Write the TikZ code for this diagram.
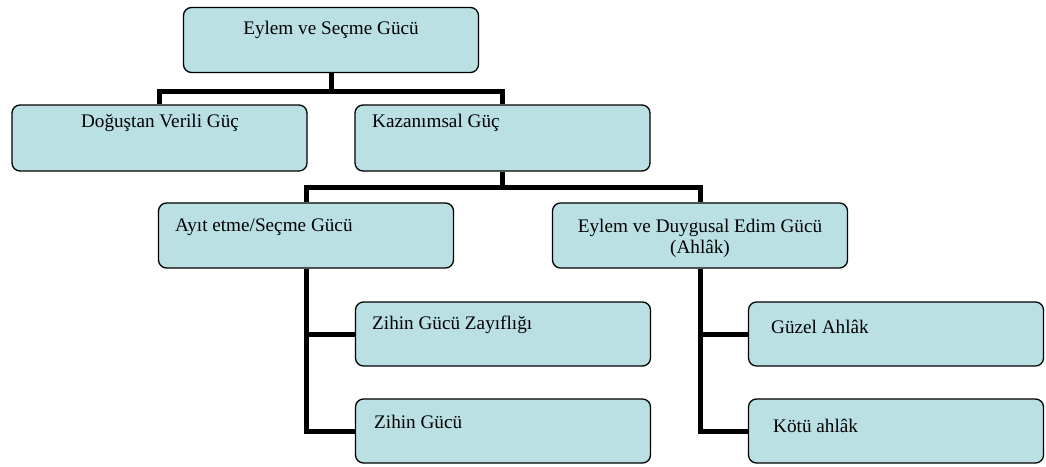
\documentclass[tikz,border=0pt]{standalone}
\usepackage{fontspec}
\setmainfont{Liberation Serif}
\definecolor{boxfill}{RGB}{186,224,228}
\begin{document}
\begin{tikzpicture}[x=1pt,y=-1pt,
  box/.style={draw=black,line width=1.3pt,fill=boxfill,rounded corners=8pt,
    minimum width=295pt,minimum height=65pt,inner sep=0pt,anchor=center},
  lbl/.style={inner sep=0pt,font=\fontsize{19.2}{21}\selectfont},
  conn/.style={line width=5pt,draw=black}]
\useasboundingbox (0,0) rectangle (1046,466);
\node[box] (top) at (331,40) {};
\node[box,minimum height=66pt] (dog) at (159.5,138) {};
\node[box,minimum height=66pt] (kaz) at (502.5,138) {};
\node[box] (ayit) at (306,235.5) {};
\node[box] (eyl) at (700,235.5) {};
\node[box,minimum height=64pt] (zz) at (503,334) {};
\node[box,minimum height=64pt] (zg) at (503,431) {};
\node[box,minimum height=64pt] (guz) at (896,334) {};
\node[box,minimum height=64pt] (kot) at (896,431) {};
\draw[conn] (top.south) -- ++(0,18) coordinate (b1) -| (dog.north);
\draw[conn] (b1) -| (kaz.north);
\draw[conn] (kaz.south) -- ++(0,16) coordinate (b2) -| (ayit.north);
\draw[conn] (b2) -| (eyl.north);
\draw[conn] (ayit.south) |- (zz.west);
\draw[conn] (ayit.south) |- (zg.west);
\draw[conn] (eyl.south) |- (guz.west);
\draw[conn] (eyl.south) |- (kot.west);
\node[lbl,anchor=base] (ttop) at (331,34) {Eylem ve Seçme Gücü};
\node[lbl,anchor=base] (tdog) at (160,127) {Doğuştan Verili Güç};
\node[lbl,anchor=base west] (tkaz) at (372,127) {Kazanımsal Güç};
\node[lbl,anchor=base west] (tayit) at (175,231) {Ayıt etme/Seçme Gücü};
\node[lbl,anchor=base] (teyl1) at (700,232) {Eylem ve Duygusal Edim Gücü};
\node[lbl,anchor=base] (teyl2) at (700,253) {(Ahlâk)};
\node[lbl,anchor=base west] (tzz) at (372,329) {Zihin Gücü Zayıflığı};
\node[lbl,anchor=base west] (tzg) at (374,428) {Zihin Gücü};
\node[lbl,anchor=base west] (tguz) at (771,333) {Güzel Ahlâk};
\node[lbl,anchor=base west] (tkot) at (773,432) {Kötü ahlâk};
\end{tikzpicture}
\end{document}
